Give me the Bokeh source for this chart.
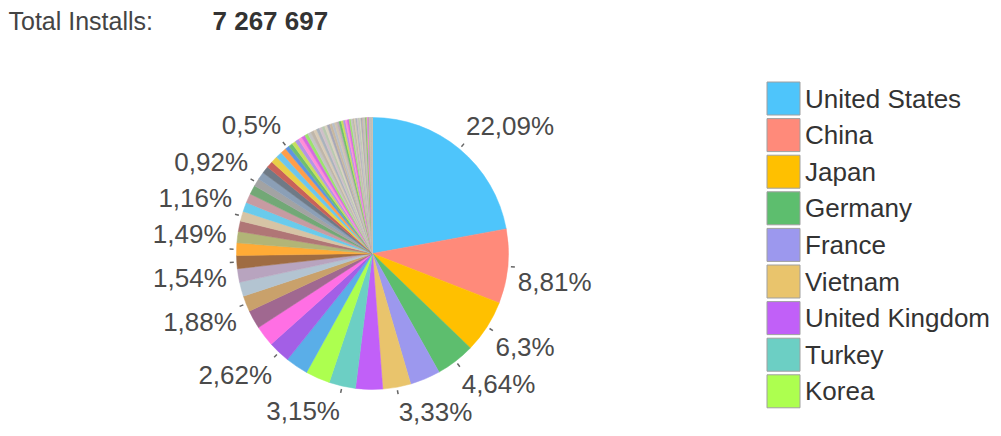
import math
from bokeh.plotting import figure
from bokeh.models import Range1d, ColumnDataSource
from bokeh.core.properties import value
from bokeh.embed import file_html
from bokeh.resources import INLINE

W, H = 1001, 436
FONT = "Liberation Sans"

total_label = "Total Installs:"
total_installs = 7267697

legend_names = ["United States", "China", "Japan", "Germany", "France",
                "Vietnam", "United Kingdom", "Turkey", "Korea"]

# share of installs per country (percent), in drawing order (clockwise from 12 o'clock)
shares = [22.09, 8.81, 6.30, 4.64, 3.60, 3.33, 3.20, 3.15, 2.90, 2.70,
          2.62, 2.45, 2.20, 1.88, 1.70, 1.60, 1.54, 1.49, 1.35, 1.25,
          1.16, 1.10, 1.10, 1.08, 0.92, 0.90, 0.85, 0.80, 0.78, 0.75,
          0.68, 0.50, 0.48, 0.46, 0.45, 0.43, 0.42, 0.40, 0.39, 0.38,
          0.36, 0.35, 0.34, 0.33, 0.32, 0.31, 0.30, 0.29, 0.28, 0.27,
          0.26, 0.25, 0.24, 0.23, 0.22, 0.21, 0.20, 0.19, 0.18, 0.17,
          0.16, 0.15, 0.14, 0.13, 0.12, 0.11, 0.10, 0.09, 0.09, 0.08,
          0.08, 0.07, 0.07, 0.06, 0.06, 0.05, 0.05, 0.04, 0.04, 0.03,
          0.03, 0.02, 0.02, 0.01, 0.01]

# slices whose percentage is printed outside the pie
labeled_idx = [0, 1, 2, 3, 5, 7, 10, 13, 16, 17, 20, 24, 31]

main_colors = ["#4ec5fb", "#ff8a7a", "#ffc000", "#5dbe6e", "#9c98ee",
               "#e9c46c", "#c160f8", "#6ccfc4", "#adff4f", "#5aaee8",
               "#a35fe6", "#ff6fe4", "#a06890", "#c9a16b", "#b3c4d1",
               "#b8a4bf", "#9f6c42", "#ffab36", "#b2b577", "#b07676",
               "#d6c4a5", "#69cbec", "#c79ba2", "#72a876", "#a3a3a3",
               "#8b9fb6", "#6f7a86", "#c8625a", "#e9cf48", "#6cc6ee",
               "#ff9e4a", "#5f95e0"]
tail_colors = ["#6fbf6f", "#c7e05c", "#b495e6", "#ff8fd6", "#d66ae0",
               "#9be36e", "#c4c4c4", "#bfb6aa", "#d8cbb6", "#aab3bc",
               "#cfc0c8", "#b9c9b0", "#d9d2c0", "#a7a7b7", "#c8b8a0",
               "#b8bfc8", "#d0c4b0", "#c0b0b8"]

colors = []
for i in range(len(shares)):
    if i < len(main_colors):
        colors.append(main_colors[i])
    else:
        colors.append(tail_colors[(i - len(main_colors)) % len(tail_colors)])

p = figure(width=W, height=H, x_range=Range1d(0, W), y_range=Range1d(0, H),
           output_backend="svg", toolbar_location=None, min_border=0,
           x_axis_location=None, y_axis_location=None,
           outline_line_color=None, background_fill_color="white",
           border_fill_color="white")
p.grid.visible = False

cx, cy = 372, H - 253
R = 136
tot = sum(shares)

starts, ends, mids = [], [], []
acc = 0.0
for s in shares:
    t1 = acc / tot * 2 * math.pi
    acc += s
    t2 = acc / tot * 2 * math.pi
    starts.append(math.pi / 2 - t2)
    ends.append(math.pi / 2 - t1)
    mids.append((t1 + t2) / 2)

src = ColumnDataSource(dict(start=starts, end=ends, color=colors))
p.wedge(x=cx, y=cy, radius=R, start_angle="start", end_angle="end",
        fill_color="color", line_color="color", line_width=0.5, source=src)

def fmt(v):
    s = f"{v:.2f}".rstrip("0").rstrip(".")
    return s.replace(".", ",") + "%"

# ticks and labels
x0s, y0s, x1s, y1s = [], [], [], []
r_lab = 146
for i in labeled_idx:
    th = mids[i]
    sn, cs = math.sin(th), math.cos(th)
    x0s.append(cx + 139 * sn); y0s.append(cy + 139 * cs)
    x1s.append(cx + 143 * sn); y1s.append(cy + 143 * cs)
    ax = cx + r_lab * sn
    ay = cy + r_lab * cs
    align = "left" if sn >= 0 else "right"
    base = "bottom" if cs > 0 else "top"
    p.text(x=[ax], y=[ay], text=[fmt(shares[i])], text_font=value(FONT),
           text_font_size="26px", text_color="#4a4a4a",
           text_align=align, text_baseline=base)
p.segment(x0=x0s, y0=y0s, x1=x1s, y1=y1s, line_color="#666666", line_width=1.5)

# legend
lx, ly0, lstep, lsize = 783, H - 98, 36.6, 33
lys = [ly0 - i * lstep for i in range(len(legend_names))]
p.rect(x=[lx] * len(legend_names), y=lys, width=lsize, height=lsize,
       fill_color=colors[:len(legend_names)], line_color="#a0a0a0", line_width=1)
p.text(x=[lx + lsize / 2 + 5] * len(legend_names), y=lys, text=legend_names,
       text_font=value(FONT), text_font_size="26px", text_color="#333333",
       text_align="left", text_baseline="middle")

# header
p.text(x=[8], y=[H - 20], text=[total_label], text_font=value(FONT),
       text_font_size="25px", text_color="#444444", text_baseline="middle")
p.text(x=[212], y=[H - 20], text=[f"{total_installs:,}".replace(",", " ")],
       text_font=value(FONT), text_font_size="26px", text_font_style="bold",
       text_color="#333333", text_baseline="middle")

open("out.html", "w").write(file_html(p, INLINE))
